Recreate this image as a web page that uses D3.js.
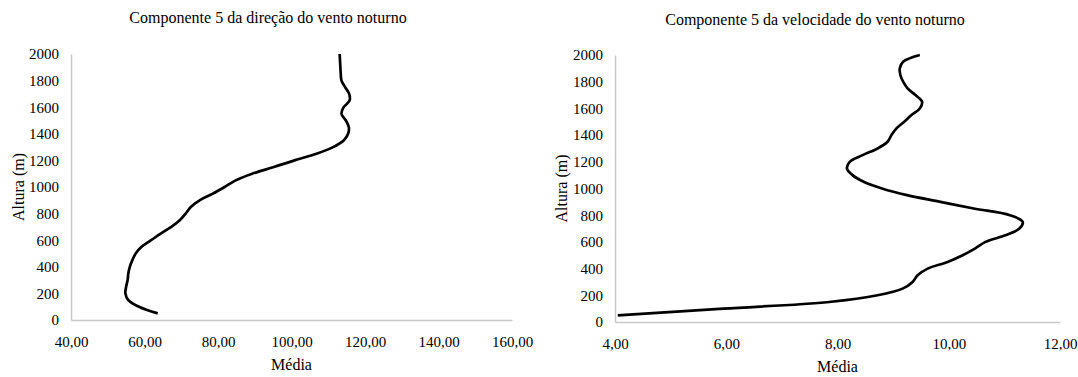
<!DOCTYPE html>
<html>
<head>
<meta charset="utf-8">
<script src="https://cdn.jsdelivr.net/npm/d3@7"></script>
<style>
  html, body { margin: 0; padding: 0; background: #fff; }
  svg { display: block; }
  text { font-family: "Liberation Serif", "Times New Roman", serif; fill: #000; }
</style>
</head>
<body>
<svg id="chart" width="1078" height="377"></svg>
<script>
// Heights (m) shared by both profiles
const heights = [50,100,150,200,250,300,350,400,450,500,550,600,650,700,750,800,850,900,950,1000,
                 1050,1100,1150,1200,1250,1300,1350,1400,1450,1500,1550,1600,1650,1700,1750,1800,1850,1900,1950,2000];

// Component 5 — nocturnal wind direction (mean)
const directionMeans = [63.6,58.5,55.6,54.8,55.0,55.4,55.6,56.0,56.7,57.6,59.2,61.8,64.4,67.3,69.6,71.2,72.6,75.0,78.6,81.8,
                        84.8,89.3,95.2,100.8,106.8,111.3,114.2,115.4,115.6,114.8,113.6,114.2,115.8,115.7,114.6,113.6,113.4,113.3,113.2,113.1];

// Component 5 — nocturnal wind speed (mean)
const speedMeans = [4.05,5.95,7.85,8.72,9.17,9.35,9.44,9.62,9.98,10.25,10.47,10.66,11.02,11.27,11.33,11.10,10.45,9.85,9.25,8.80,
                    8.47,8.27,8.17,8.22,8.45,8.72,8.90,8.97,9.06,9.20,9.33,9.48,9.52,9.40,9.26,9.18,9.13,9.12,9.18,9.48];

const yTicks = [0,200,400,600,800,1000,1200,1400,1600,1800,2000];
const dirTicks = [40,60,80,100,120,140,160];
const speedTicks = [4,6,8,10,12];

const titles = ["Componente 5 da direção do vento noturno", "Componente 5 da velocidade do vento noturno"];
const yTitle = "Altura (m)";
const xTitle = "Média";

const svg = d3.select("#chart");
const fmtX = v => d3.format(".2f")(v).replace(".", ",");
const fmtY = d3.format("d");
const serif = "'Liberation Serif', 'Times New Roman', serif";

function panel(cfg) {
  const x = d3.scaleLinear().domain(cfg.xDomain).range([cfg.left, cfg.right]);
  const y = d3.scaleLinear().domain([0, 2000]).range([cfg.bottom, cfg.top]);
  const g = svg.append("g");

  // axes (no tick marks, light grey baseline)
  const xAxis = g.append("g").attr("transform", `translate(0,${cfg.bottom})`)
    .call(d3.axisBottom(x).tickValues(cfg.xTicks).tickFormat(fmtX).tickSize(0).tickPadding(16));
  const yAxis = g.append("g").attr("transform", `translate(${cfg.left},0)`)
    .call(d3.axisLeft(y).tickValues(yTicks).tickFormat(fmtY).tickSize(0).tickPadding(12));
  [xAxis, yAxis].forEach(a => {
    a.attr("font-family", serif).attr("font-size", 15);
    a.select(".domain").attr("stroke", "#c8c8c8").attr("stroke-width", 1.5);
    a.selectAll("text").attr("fill", "#000");
  });

  // profile line
  const line = d3.line()
    .x(d => x(d))
    .y((d, i) => y(heights[i]))
    .curve(d3.curveCatmullRom.alpha(0.5));
  g.append("path").datum(cfg.values)
    .attr("d", line)
    .attr("fill", "none")
    .attr("stroke", "#000")
    .attr("stroke-width", 2.7)
    .attr("stroke-linejoin", "round");

  // titles
  g.append("text").attr("x", cfg.titleX).attr("y", cfg.titleY)
    .attr("text-anchor", "middle").style("font-size", "16px").text(cfg.title);
  g.append("text").attr("x", (cfg.left + cfg.right) / 2).attr("y", cfg.bottom + 50)
    .attr("text-anchor", "middle").style("font-size", "16px").text(xTitle);
  g.append("text")
    .attr("transform", `translate(${cfg.yTitleX},${(cfg.top + cfg.bottom) / 2}) rotate(-90)`)
    .attr("text-anchor", "middle").style("font-size", "16px").text(yTitle);
}

panel({ xDomain: [40, 160], xTicks: dirTicks, values: directionMeans,
        left: 71, right: 512, top: 54, bottom: 320,
        title: titles[0], titleX: 268, titleY: 23, yTitleX: 24 });
panel({ xDomain: [4, 12], xTicks: speedTicks, values: speedMeans,
        left: 615, right: 1060, top: 55, bottom: 322,
        title: titles[1], titleX: 815, titleY: 25, yTitleX: 567 });
</script>
</body>
</html>
